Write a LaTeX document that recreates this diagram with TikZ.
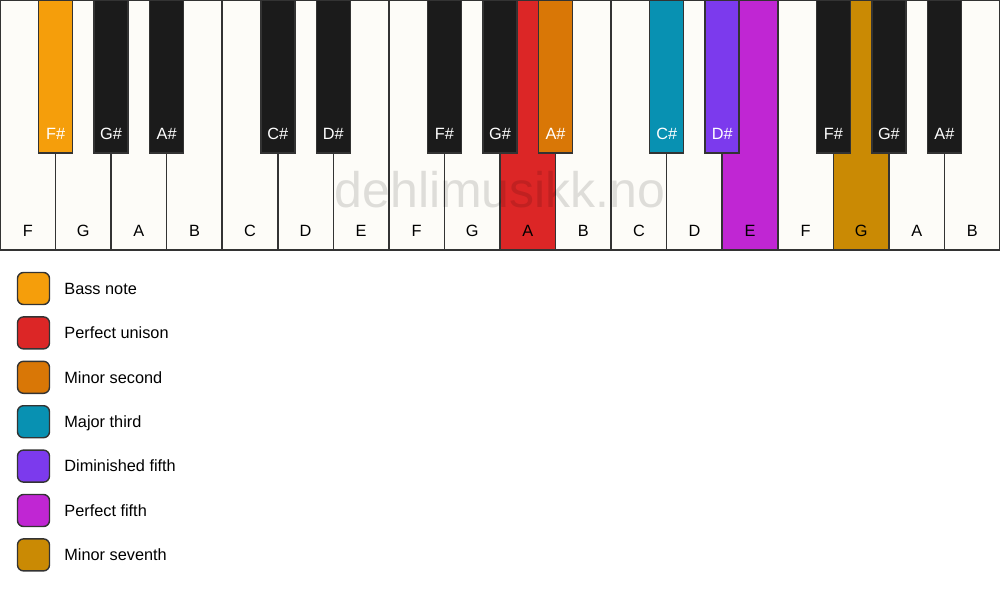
\documentclass[tikz,border=0pt]{standalone}
\usepackage{fontspec}
\setmainfont{Liberation Sans}
\usetikzlibrary{positioning}

\definecolor{keywhite}{HTML}{FDFCF8}
\definecolor{keyblack}{HTML}{1B1B1B}
\definecolor{keyline}{HTML}{333333}
\definecolor{bassnote}{HTML}{F59E0B}
\definecolor{unison}{HTML}{DC2626}
\definecolor{minsecond}{HTML}{D97706}
\definecolor{majthird}{HTML}{0891B2}
\definecolor{dimfifth}{HTML}{7C3AED}
\definecolor{perffifth}{HTML}{C026D3}
\definecolor{minseventh}{HTML}{CA8A04}

\begin{document}
\begin{tikzpicture}[x=1pt,y=-1pt,
	wkey/.style={draw=keyline,line width=1.6pt,fill=keywhite},
	bkey/.style={draw=keyline,line width=1.6pt,fill=keyblack},
	wlabel/.style={font=\fontsize{16.3}{16}\selectfont,text=black,anchor=base},
	blabel/.style={font=\fontsize{16.3}{16}\selectfont,text=white,anchor=base},
	swatch/.style={draw=keyline,line width=1.4pt,rounded corners=6pt,minimum size=32pt,inner sep=0pt},
	legtext/.style={font=\fontsize{16.3}{16}\selectfont,anchor=west,text height=11.5pt,text depth=0pt,inner sep=0pt}]
	
	\useasboundingbox (0,0) rectangle (1000,594);
	\fill[white] (0,0) rectangle (1000,594);
	
	% white keys
	\foreach \n/\col [count=\i from 0] in {F/keywhite,G/keywhite,A/keywhite,B/keywhite,C/keywhite,D/keywhite,E/keywhite,F/keywhite,G/keywhite,A/unison,B/keywhite,C/keywhite,D/keywhite,E/perffifth,F/keywhite,G/minseventh,A/keywhite,B/keywhite}{
		\draw[wkey,fill=\col] (\i*55.556,0) rectangle ({(\i+1)*55.556},250);
		\node[wlabel] (w\i) at ({(\i+0.5)*55.556},236) {\n};
	}
	
	% black keys
	\foreach \b/\n/\col in {1/F/bassnote,2/G/keyblack,3/A/keyblack,5/C/keyblack,6/D/keyblack,8/F/keyblack,9/G/keyblack,10/A/minsecond,12/C/majthird,13/D/dimfifth,15/F/keyblack,16/G/keyblack,17/A/keyblack}{
		\draw[bkey,fill=\col] (\b*55.556-17,0) rectangle (\b*55.556+17,153);
		\node[blabel] (b\b) at (\b*55.556,139) {\n\#};
	}
	
	% watermark
	\node[anchor=base,font=\fontsize{50}{50}\selectfont,text=black,text opacity=0.12] (mark) at (500,207) {dehlimusikk.no};
	
	% legend
	\foreach \col/\txt [count=\i from 0] in {bassnote/Bass note,unison/Perfect unison,minsecond/Minor second,majthird/Major third,dimfifth/Diminished fifth,perffifth/Perfect fifth,minseventh/Minor seventh}{
		\node[swatch,fill=\col] (sw\i) at (33.5,288.5+\i*44.4) {};
		\node[legtext,right=14pt of sw\i] (lt\i) {\txt};
	}
	
\end{tikzpicture}
\end{document}
